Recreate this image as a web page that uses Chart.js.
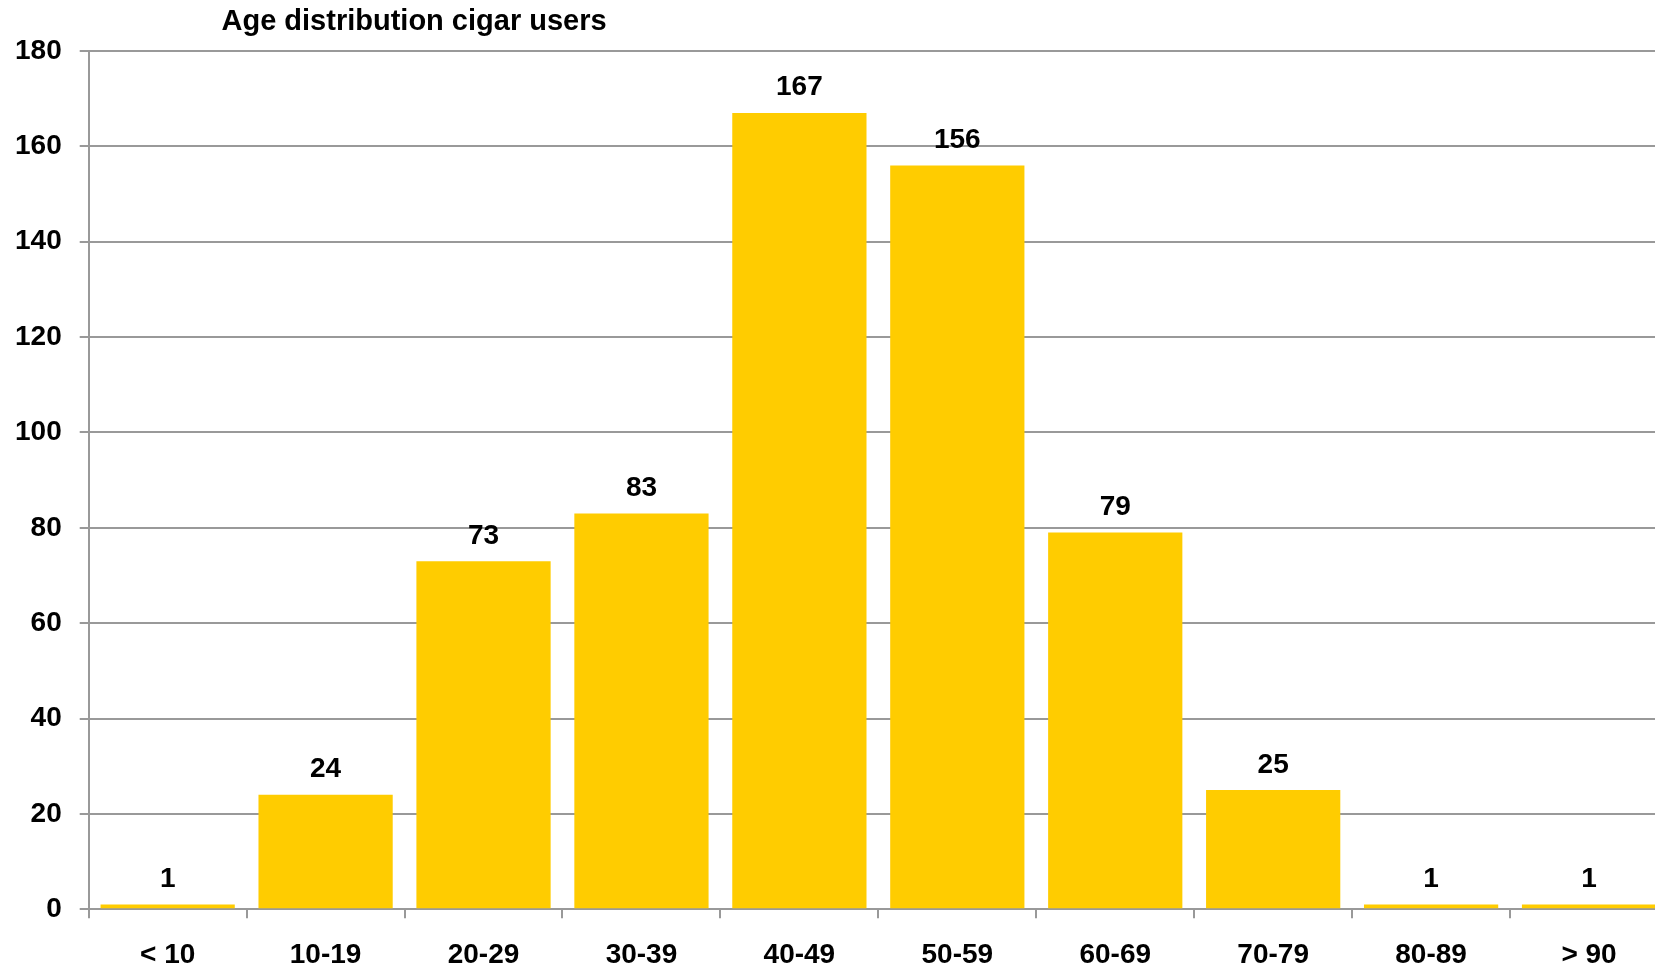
<!DOCTYPE html>
<html>
<head>
<meta charset="utf-8">
<script src="https://cdn.jsdelivr.net/npm/chart.js@4"></script>
<style>
html,body{margin:0;padding:0;background:#fff;overflow:hidden;}
#wrap{width:1655px;height:968px;overflow:hidden;}
</style>
</head>
<body>
<div id="wrap"><canvas id="c" width="1668" height="968"></canvas></div>
<script>
const chartTitle = "Age distribution cigar users";
const categories = ["< 10","10-19","20-29","30-39","40-49","50-59","60-69","70-79","80-89","> 90"];
const users = [1,24,73,83,167,156,79,25,1,1];
const yTicks = [0,20,40,60,80,100,120,140,160,180];

const FONT = "'Liberation Sans', Arial, sans-serif";
const GRID = "#999999";

const labelPlugin = {
  id: 'valueLabels',
  afterDatasetsDraw(chart) {
    const ctx = chart.ctx;
    const meta = chart.getDatasetMeta(0);
    ctx.save();
    ctx.font = "bold 28px " + FONT;
    ctx.fillStyle = "#000";
    ctx.textAlign = "center";
    ctx.textBaseline = "alphabetic";
    meta.data.forEach((bar, i) => {
      ctx.fillText(String(users[i]), bar.x, bar.y - 17.5);
    });
    ctx.restore();
  }
};

const titlePlugin = {
  id: 'leftTitle',
  afterDraw(chart) {
    const ctx = chart.ctx;
    ctx.save();
    ctx.font = "bold 29px " + FONT;
    ctx.fillStyle = "#000";
    ctx.textAlign = "left";
    ctx.textBaseline = "alphabetic";
    ctx.fillText(chartTitle, 221.5, 30);
    ctx.restore();
  }
};

new Chart(document.getElementById('c'), {
  type: 'bar',
  data: {
    labels: categories,
    datasets: [{
      data: users,
      backgroundColor: "#FFCC00",
      borderWidth: 0,
      categoryPercentage: 1.0,
      barPercentage: 0.85
    }]
  },
  options: {
    responsive: false,
    animation: false,
    layout: { padding: { top: 51, left: 0, right: 0, bottom: 0 } },
    plugins: { legend: { display: false }, title: { display: false }, tooltip: { enabled: false } },
    scales: {
      x: {
        afterFit(scale) { scale.height = 58.7; },
        grid: { display: true, drawOnChartArea: false, drawTicks: true, tickLength: 9, color: GRID, lineWidth: 2, offset: true },
        border: { display: true, color: GRID, width: 2 },
        ticks: { font: { family: FONT, size: 28, weight: 'bold' }, color: "#000", padding: 20, maxRotation: 0, autoSkip: false }
      },
      y: {
        min: 0, max: 180,
        afterFit(scale) { scale.width = 88.7; },
        afterBuildTicks(scale) { scale.ticks = yTicks.map(v => ({ value: v })); },
        grid: { color: GRID, lineWidth: 2, tickLength: 9, drawTicks: true },
        border: { display: true, color: GRID, width: 2 },
        ticks: { font: { family: FONT, size: 28, weight: 'bold' }, color: "#000", padding: 18 }
      }
    }
  },
  plugins: [labelPlugin, titlePlugin]
});
</script>
</body>
</html>
